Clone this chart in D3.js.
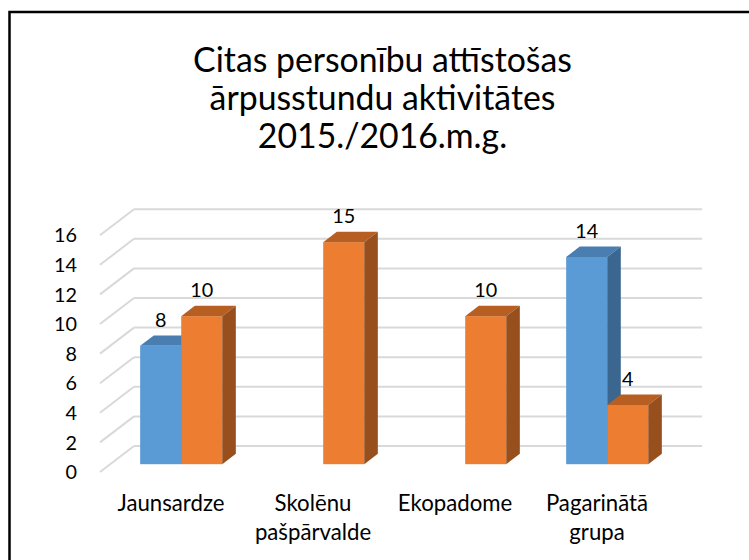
<!DOCTYPE html>
<html>
<head>
<meta charset="utf-8">
<script src="https://cdn.jsdelivr.net/npm/d3@7"></script>
<style>
html,body{margin:0;padding:0;background:#fff;}
svg{display:block;}
text{font-family:Lato,"Open Sans",sans-serif;fill:#000;}
</style>
</head>
<body>
<svg id="chart" width="749" height="560"></svg>
<script>
// ---- data ----
const titleLines = ["Citas personību attīstošas", "ārpusstundu aktivitātes", "2015./2016.m.g."];
const categories = ["Jaunsardze", "Skolēnu pašpārvalde", "Ekopadome", "Pagarinātā grupa"];
const categoryLines = [["Jaunsardze"], ["Skolēnu", "pašpārvalde"], ["Ekopadome"], ["Pagarinātā", "grupa"]];
const seriesNames = ["A", "B"];
const seriesA = [8, null, null, 14];
const seriesB = [10, 15, 10, 4];
const yTicks = [0, 2, 4, 6, 8, 10, 12, 14, 16];

// ---- layout ----
const svg = d3.select("#chart");
const frontBase = 472, depthX = 34, depthY = -26;
const barDepthStart = 0.3, barDepthEnd = 0.7;
const colors = {
  A: {front: "#5b9bd5", top: "#4a7db0", side: "#3b6690"},
  B: {front: "#ed7d31", top: "#b75f23", side: "#984f1e"}
};

const y = d3.scaleLinear().domain([0, 16]).range([0, 236.8]);
const x = d3.scaleBand().domain(categories).range([100, 668]).paddingInner(0).paddingOuter(0);
const xs = d3.scaleBand().domain(seriesNames).range([0, x.bandwidth()]).paddingInner(0).paddingOuter(0.73);

function fit(sel, target) {
  sel.style("font-size", "100px");
  const w = sel.node().getComputedTextLength();
  const s = 100 * target / w;
  sel.style("font-size", s + "px");
  return s;
}
function fitSize(str, target) {
  const t = svg.append("text").text(str);
  const s = fit(t, target); t.remove(); return s;
}

// border
svg.append("rect").attr("x", 9.5).attr("y", 12).attr("width", 900).attr("height", 700)
  .attr("fill", "none").attr("stroke", "#000").attr("stroke-width", 2.5);

// title
const tSize = fitSize(titleLines[0], 379);
const titleBase = [72, 110, 148];
svg.append("g").selectAll("text").data(titleLines).join("text")
  .attr("x", 382.5).attr("y", (d, i) => titleBase[i])
  .attr("text-anchor", "middle").style("font-size", tSize + "px").text(d => d);

// gridlines
const grid = svg.append("g").attr("stroke", "#d9d9d9").attr("stroke-width", 2).attr("fill", "none");
yTicks.forEach(v => {
  const fy = frontBase - y(v);
  grid.append("line").attr("x1", 100).attr("y1", fy).attr("x2", 100 + depthX).attr("y2", fy + depthY);
  grid.append("line").attr("x1", 100 + depthX).attr("y1", fy + depthY).attr("x2", 668 + depthX).attr("y2", fy + depthY);
});

// y tick labels
const tickSize = fitSize("16", 23);
svg.append("g").selectAll("text").data(yTicks).join("text")
  .attr("x", 77).attr("y", d => frontBase - y(d) + tickSize * 0.36)
  .attr("text-anchor", "end").style("font-size", tickSize + "px").text(d => d);

// bars
const bars = [];
categories.forEach((c, i) => {
  [["A", seriesA[i]], ["B", seriesB[i]]].forEach(([s, v]) => {
    if (v == null) return;
    bars.push({cat: c, s, v});
  });
});
const ox = depthX * barDepthStart, oy = depthY * barDepthStart;
const dx = depthX * (barDepthEnd - barDepthStart), dy = depthY * (barDepthEnd - barDepthStart);
const gb = svg.append("g");
bars.forEach(b => {
  const x0 = x(b.cat) + xs(b.s) + ox, x1 = x0 + xs.bandwidth();
  const yb = frontBase + oy, yt = yb - y(b.v);
  const col = colors[b.s];
  gb.append("rect").attr("x", x0).attr("y", yt).attr("width", x1 - x0).attr("height", yb - yt).attr("fill", col.front);
  gb.append("polygon").attr("points", [[x0, yt], [x1, yt], [x1 + dx, yt + dy], [x0 + dx, yt + dy]].join(" ")).attr("fill", col.top);
  gb.append("polygon").attr("points", [[x1, yt], [x1, yb], [x1 + dx, yb + dy], [x1 + dx, yt + dy]].join(" ")).attr("fill", col.side);
  b.cx = (x0 + x1) / 2; b.ly = yt - 19;
});

// data labels
svg.append("g").selectAll("text").data(bars).join("text")
  .attr("x", d => d.cx).attr("y", d => d.ly)
  .attr("text-anchor", "middle").style("font-size", tickSize + "px").text(d => d.v);

// category labels
const cSize = fitSize("Jaunsardze", 107);
const cg = svg.append("g");
categories.forEach((c, i) => {
  const cx = x(c) + x.bandwidth() / 2;
  categoryLines[i].forEach((line, j) => {
    cg.append("text").attr("x", cx).attr("y", 510.5 + j * 29)
      .attr("text-anchor", "middle").style("font-size", cSize + "px").text(line);
  });
});
</script>
</body>
</html>
